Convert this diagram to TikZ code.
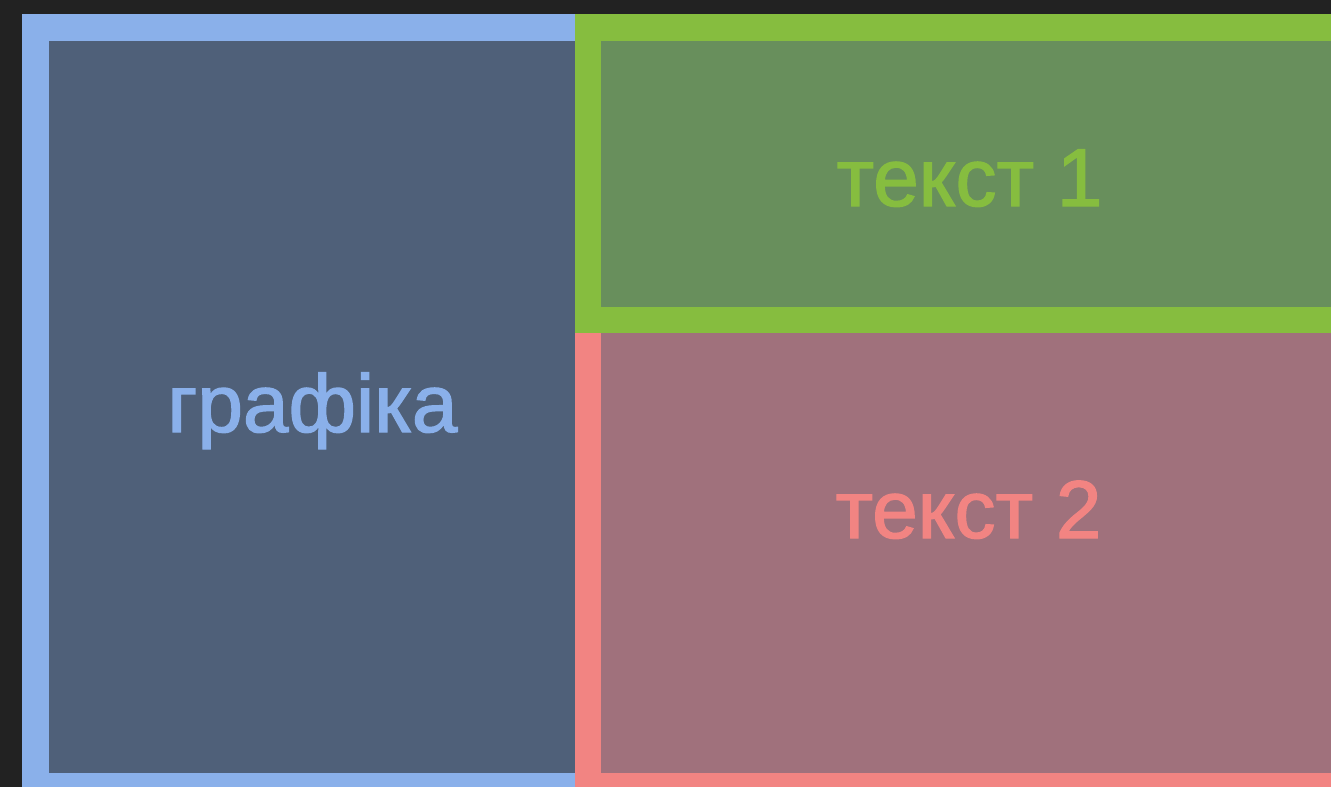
\documentclass[tikz,border=0pt]{standalone}
\usepackage{fontspec}
\setmainfont{Liberation Sans}
\newfontfamily\panelfont{Liberation Sans}[FakeBold=1.6]
\definecolor{bgdark}{HTML}{222222}
\definecolor{blueedge}{HTML}{8AB0EA}
\definecolor{bluefill}{HTML}{4F6079}
\definecolor{greenedge}{HTML}{86BD3F}
\definecolor{greenfill}{HTML}{688F5C}
\definecolor{rededge}{HTML}{F28482}
\definecolor{redfill}{HTML}{A0717C}
\tikzset{
  label text/.style={anchor=base, inner sep=0pt, font=\panelfont\fontsize{82}{90}\selectfont},
}
\begin{document}
\begin{tikzpicture}[x=1pt,y=-1pt]
  % canvas
  \fill[bgdark] (0,0) rectangle (1331,787);
  \useasboundingbox (0,0) rectangle (1331,787);
  % graphics panel
  \fill[blueedge] (22,14) rectangle (575,787);
  \fill[bluefill] (49,41) rectangle (575,773);
  % text 1 panel
  \fill[greenedge] (575,14) rectangle (1331,333);
  \fill[greenfill] (601,41) rectangle (1331,307);
  % text 2 panel
  \fill[rededge] (575,333) rectangle (1331,787);
  \fill[redfill] (601,333) rectangle (1331,773);
  % labels
  \node[label text, text=blueedge] (grafika) at (312.5,432) {графіка};
  \node[label text, text=greenedge] (tekst1) at (969.5,206) {текст 1};
  \node[label text, text=rededge] (tekst2) at (968.5,538) {текст 2};
\end{tikzpicture}
\end{document}
